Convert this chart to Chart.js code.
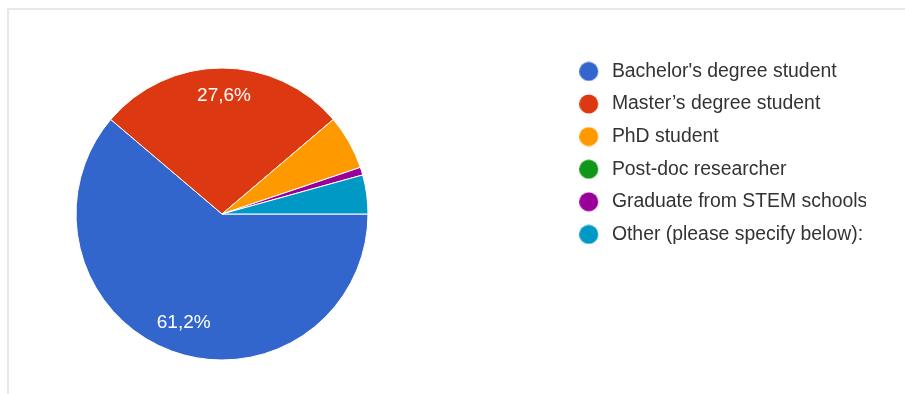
<!DOCTYPE html>
<html>
<head>
<meta charset="utf-8">
<script src="https://cdn.jsdelivr.net/npm/chart.js@4.4.1/dist/chart.umd.min.js"></script>
<style>
    html, body { margin: 0; padding: 0; background: #fff; overflow: hidden; }
    #frame {
        position: absolute; left: 7px; top: 8px; width: 905px; height: 400px;
        border-left: 2px solid #e8e8e8; border-top: 2px solid #e8e8e8;
    }
    #wrap { position: absolute; left: -122px; top: 0; width: 1027px; height: 394px; }
</style>
</head>
<body>
<div id="frame"></div>
<div id="wrap"><canvas id="grafico"></canvas></div>
<script>
// respostas (n = 116)
const categorias = [
    "Bachelor's degree student",
    "Master\u2019s degree student",
    "PhD student",
    "Post-doc researcher",
    "Graduate from STEM schools",
    "Other (please specify below):"
];
const respostas = [71, 32, 7, 0, 1, 5];
const cores = ["#3366cc", "#dc3912", "#ff9900", "#109618", "#990099", "#0099c6"];

// bolinha da legenda com um espaço à direita antes do texto
function bolinha(cor) {
    const c = document.createElement('canvas');
    c.width = 23;
    c.height = 20;
    const g = c.getContext('2d');
    g.fillStyle = cor;
    g.beginPath();
    g.arc(9.5, 10, 9.5, 0, Math.PI * 2);
    g.fill();
    return c;
}

// escreve a porcentagem dentro das fatias grandes
const rotuloPorcentagem = {
    id: 'rotuloPorcentagem',
    afterDatasetsDraw(chart) {
        const ctx = chart.ctx;
        const meta = chart.getDatasetMeta(0);
        const total = respostas.reduce((a, b) => a + b, 0);
        ctx.save();
        ctx.font = '19px "Liberation Sans", Arial, sans-serif';
        ctx.fillStyle = '#ffffff';
        ctx.textAlign = 'center';
        ctx.textBaseline = 'middle';
        meta.data.forEach((arc, i) => {
            const pct = respostas[i] / total * 100;
            if (pct < 10) return;
            const p = arc.getProps(['x', 'y', 'startAngle', 'endAngle', 'outerRadius'], true);
            const meio = (p.startAngle + p.endAngle) / 2;
            const r = p.outerRadius * 0.8;
            ctx.fillText(pct.toFixed(1).replace('.', ',') + '%', p.x + Math.cos(meio) * r + 2, p.y + Math.sin(meio) * r - 1);
        });
        ctx.restore();
    }
};

const ctx = document.getElementById('grafico').getContext('2d');
new Chart(ctx, {
    type: 'pie',
    data: {
        labels: categorias,
        datasets: [{
            data: respostas,
            backgroundColor: cores,
            borderColor: '#ffffff',
            borderWidth: 1,
            radius: 146
        }]
    },
    options: {
        responsive: true,
        maintainAspectRatio: false,
        animation: false,
        rotation: 90,
        layout: { padding: { left: 0, right: 39, top: 48.5, bottom: 14.5 } },
        plugins: {
            tooltip: { enabled: false },
            legend: {
                position: 'right',
                align: 'start',
                maxWidth: 300,
                labels: {
                    color: '#333',
                    font: { size: 19.4, family: '"Liberation Sans", Arial, sans-serif' },
                    usePointStyle: true,
                    pointStyleWidth: 23,
                    boxHeight: 19,
                    padding: 13.2,
                    generateLabels(chart) {
                        const itens = Chart.overrides.pie.plugins.legend.labels.generateLabels(chart);
                        return itens.map(item => Object.assign(item, { pointStyle: bolinha(item.fillStyle), lineWidth: 0 }));
                    }
                }
            }
        }
    },
    plugins: [rotuloPorcentagem]
});
</script>
</body>
</html>
